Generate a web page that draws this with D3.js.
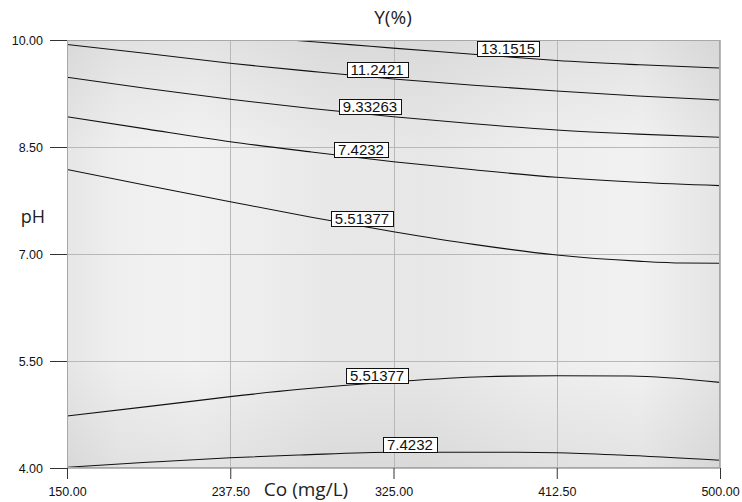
<!DOCTYPE html>
<html>
<head>
<meta charset="utf-8">
<script src="https://cdn.jsdelivr.net/npm/d3@7/dist/d3.min.js"></script>
<style>
  html, body { margin: 0; padding: 0; background: #ffffff; }
  svg { display: block; }
</style>
</head>
<body>
<script>
// Axis ticks
const coTicks = [150, 237.5, 325, 412.5, 500];
const phTicks = [4, 5.5, 7, 8.5, 10];

// Contour lines of Y(%) as [Co (mg/L), pH] pairs
const contourA = [[255, 10.03], [269.5, 10.0], [301.7, 9.935], [324.7, 9.886], [360.6, 9.815], [385.3, 9.766], [412.6, 9.712], [457.1, 9.652], [500, 9.607]];
const contourB = [[150, 9.937], [193, 9.81], [237.5, 9.673], [281, 9.56], [325, 9.453], [368, 9.365], [412.5, 9.285], [456, 9.215], [500, 9.159]];
const contourC = [[150, 9.477], [193, 9.32], [237.5, 9.169], [281, 9.04], [325, 8.925], [368, 8.825], [412.5, 8.738], [456, 8.68], [500, 8.636]];
const contourD = [[150, 8.925], [193, 8.75], [237.5, 8.574], [281, 8.43], [325, 8.294], [368, 8.18], [412.5, 8.075], [456, 8.005], [500, 7.958]];
const contourE = [[150, 8.185], [193, 7.96], [237.5, 7.733], [281, 7.515], [325, 7.313], [368, 7.135], [412.5, 6.986], [456, 6.9], [480, 6.873], [500, 6.87]];
const contourF = [[150, 4.729], [193, 4.86], [237.5, 5.0], [274.9, 5.103], [325, 5.21], [373, 5.28], [412.5, 5.294], [451.8, 5.29], [500, 5.201]];
const contourG = [[150, 4.01], [193, 4.08], [237.5, 4.144], [274.9, 4.182], [325, 4.22], [391.2, 4.22], [412.5, 4.214], [446.4, 4.182], [500, 4.108]];

const contours = [contourA, contourB, contourC, contourD, contourE, contourF, contourG];
const levelLabels = ["13.1515", "11.2421", "9.33263", "7.4232", "5.51377", "5.51377", "7.4232"];
const labelCo = [386.4, 316.2, 312.4, 307.6, 308.1, 316.2, 333.8];

const W = 742, H = 502;
const margin = { left: 67, right: 22, top: 40, bottom: 34 };

const svg = d3.select("body").append("svg")
  .attr("width", W).attr("height", H);

const x = d3.scaleLinear().domain([150, 500]).range([margin.left, W - margin.right]);
const y = d3.scaleLinear().domain([4, 10]).range([H - margin.bottom, margin.top]);

const pw = W - margin.left - margin.right;
const ph = H - margin.top - margin.bottom;

// Plot background: soft grey shading across and down the field
const defs = svg.append("defs");
const hGrad = defs.append("linearGradient")
  .attr("id", "bgAcross").attr("x1", "0%").attr("x2", "100%").attr("y1", "0%").attr("y2", "0%");
[["0%", "#e6e6e6"], ["8%", "#efefef"], ["20%", "#f2f2f2"], ["40%", "#e8e8e8"], ["55%", "#e7e7e7"],
 ["72%", "#eeeeee"], ["88%", "#f1f1f1"], ["100%", "#e4e4e4"]]
  .forEach(([o, c]) => hGrad.append("stop").attr("offset", o).attr("stop-color", c));

const vGrad = defs.append("linearGradient")
  .attr("id", "bgDown").attr("x1", "0%").attr("x2", "0%").attr("y1", "0%").attr("y2", "100%");
[["0%", 0.06], ["25%", 0.0], ["75%", 0.0], ["100%", 0.06]]
  .forEach(([o, a]) => vGrad.append("stop").attr("offset", o).attr("stop-color", "#000").attr("stop-opacity", a));

defs.append("clipPath").attr("id", "plotClip")
  .append("rect")
  .attr("x", margin.left).attr("y", margin.top)
  .attr("width", pw).attr("height", ph);

svg.append("rect")
  .attr("x", margin.left).attr("y", margin.top)
  .attr("width", pw).attr("height", ph)
  .attr("fill", "url(#bgAcross)");
svg.append("rect")
  .attr("x", margin.left).attr("y", margin.top)
  .attr("width", pw).attr("height", ph)
  .attr("fill", "url(#bgDown)");

// Grid lines
const grid = svg.append("g").attr("stroke", "#b8b8b8").attr("stroke-width", 1);
grid.selectAll("line.gx").data(coTicks).join("line")
  .attr("class", "gx")
  .attr("x1", d => Math.round(x(d)) + 0.5).attr("x2", d => Math.round(x(d)) + 0.5)
  .attr("y1", margin.top).attr("y2", H - margin.bottom);
grid.selectAll("line.gy").data(phTicks).join("line")
  .attr("class", "gy")
  .attr("y1", d => Math.round(y(d)) + 0.5).attr("y2", d => Math.round(y(d)) + 0.5)
  .attr("x1", margin.left).attr("x2", W - margin.right);

// Contour lines
const line = d3.line()
  .x(d => x(d[0]))
  .y(d => y(d[1]))
  .curve(d3.curveMonotoneX);

const lines = svg.append("g").attr("clip-path", "url(#plotClip)");
lines.selectAll("path").data(contours).join("path")
  .attr("d", line)
  .attr("fill", "none")
  .attr("stroke", "#111")
  .attr("stroke-width", 1.1);

// Contour labels: boxed values sitting on their lines
const labels = svg.append("g")
  .attr("font-family", "'Liberation Sans', Arial, sans-serif")
  .attr("font-size", 15);

contours.forEach((pts, i) => {
  const interp = d3.scaleLinear().domain(pts.map(p => p[0])).range(pts.map(p => p[1]));
  const cx = x(labelCo[i]);
  const cy = y(interp(labelCo[i]));
  const g = labels.append("g");
  const t = g.append("text")
    .attr("x", cx).attr("y", cy - 2.4)
    .attr("text-anchor", "middle")
    .attr("fill", "#111")
    .text(levelLabels[i]);
  const bb = t.node().getBBox();
  g.insert("rect", "text")
    .attr("x", Math.round(bb.x - 4) + 0.5)
    .attr("y", Math.round(cy - 15.4) + 0.5)
    .attr("width", Math.round(bb.width + 8))
    .attr("height", 15)
    .attr("fill", "#ffffff")
    .attr("stroke", "#111")
    .attr("stroke-width", 1);
});

// Plot border
svg.append("rect")
  .attr("x", margin.left + 0.5).attr("y", margin.top + 0.5)
  .attr("width", pw - 1).attr("height", ph - 1)
  .attr("fill", "none").attr("stroke", "#a8a8a8");

// Axes
const tickFmt = d3.format(".2f");
const xAxis = svg.append("g")
  .attr("transform", `translate(0,${H - margin.bottom})`)
  .call(d3.axisBottom(x).tickValues(coTicks).tickFormat(tickFmt).tickSize(11).tickPadding(8));
const yAxis = svg.append("g")
  .attr("transform", `translate(${margin.left},0)`)
  .call(d3.axisLeft(y).tickValues(phTicks).tickFormat(tickFmt).tickSize(17).tickPadding(7));

[xAxis, yAxis].forEach(a => {
  a.select(".domain").remove();
  a.selectAll(".tick line").attr("stroke", "#333");
  a.selectAll(".tick text")
    .attr("font-family", "'Liberation Sans', Arial, sans-serif")
    .attr("font-size", 12.5)
    .attr("fill", "#111");
});

// Titles
const titleFont = "'Open Sans', 'Noto Sans', sans-serif";
svg.append("text")
  .attr("x", 393).attr("y", 24)
  .attr("text-anchor", "middle")
  .attr("font-family", titleFont).attr("font-size", 19)
  .attr("fill", "#222")
  .text("Y(%)");

svg.append("text")
  .attr("x", 306).attr("y", 496)
  .attr("text-anchor", "middle")
  .attr("font-family", titleFont).attr("font-size", 19)
  .attr("fill", "#222")
  .text("Co (mg/L)");

svg.append("text")
  .attr("x", 33).attr("y", 223)
  .attr("text-anchor", "middle")
  .attr("font-family", titleFont).attr("font-size", 18)
  .attr("fill", "#222")
  .text("pH");
</script>
</body>
</html>
